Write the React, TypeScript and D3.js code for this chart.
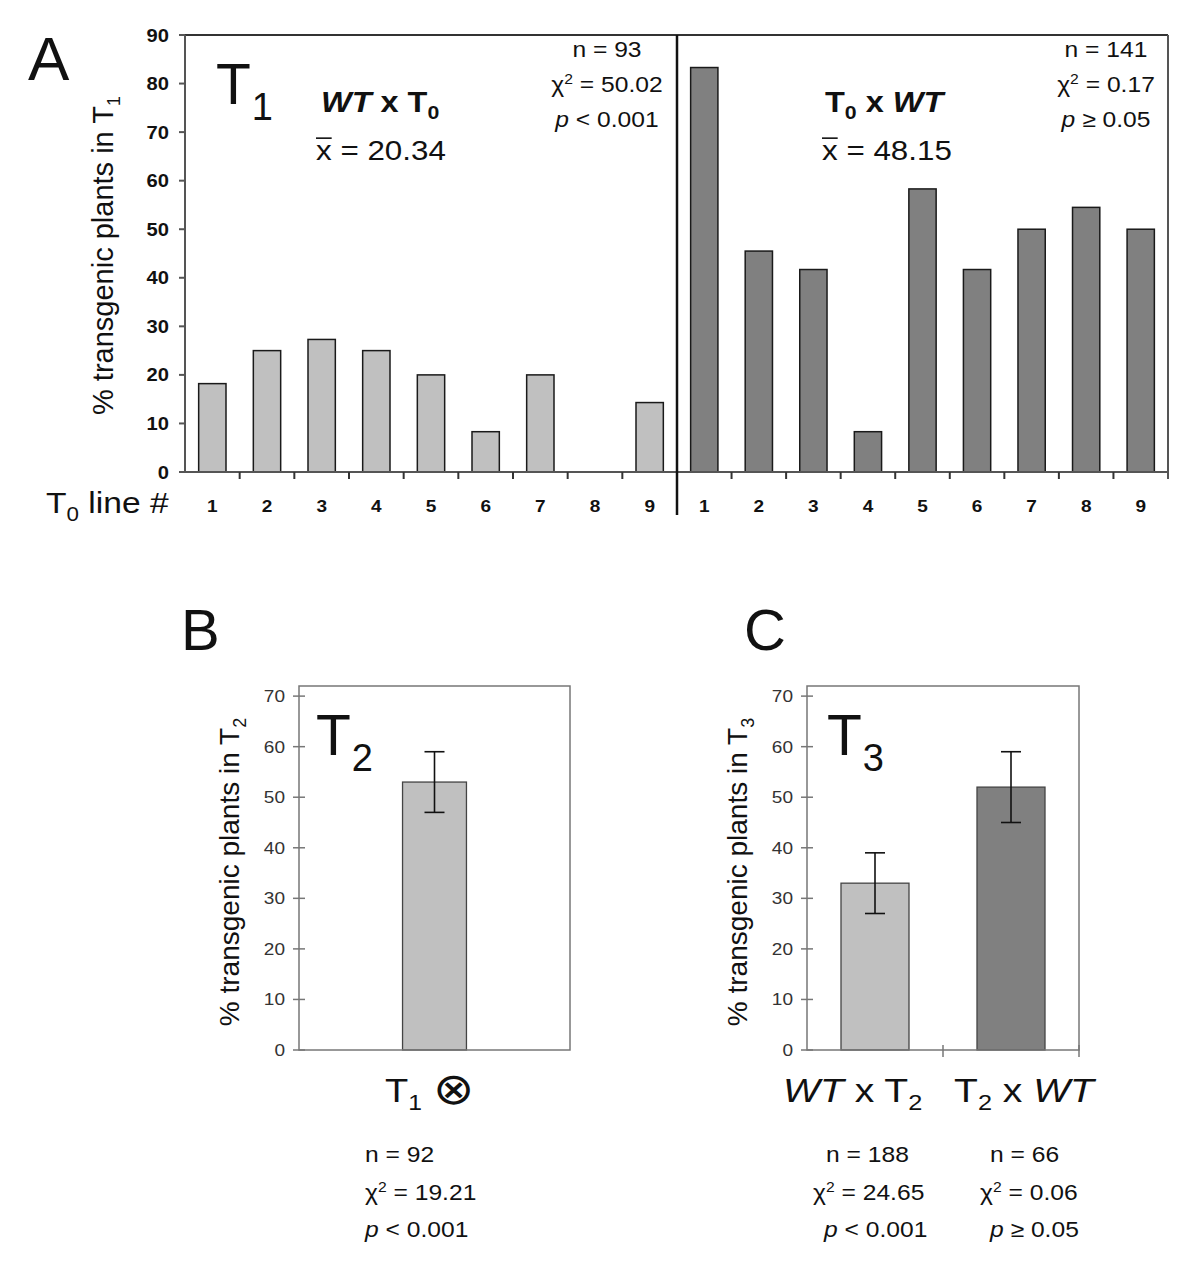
import React from 'react';
import * as d3 from 'd3';

// ---------- data ----------
const lineIds = ['1', '2', '3', '4', '5', '6', '7', '8', '9'];
const wtXT0 = [18.2, 25, 27.3, 25, 20, 8.3, 20, 0, 14.3];
const t0XWt = [83.3, 45.5, 41.7, 8.3, 58.3, 41.7, 50, 54.5, 50];
const ticksA = [0, 10, 20, 30, 40, 50, 60, 70, 80, 90];

const bCats = ['T1 self'];
const bMeans = [53];
const bLow = [47];
const bHigh = [59];

const cCats = ['WT x T2', 'T2 x WT'];
const cMeans = [33, 52];
const cLow = [27, 45];
const cHigh = [39, 59];
const ticksBC = [0, 10, 20, 30, 40, 50, 60, 70];

const LIGHT = '#c0c0c0';
const DARK = '#808080';
const FONT = '"Liberation Sans", Arial, Helvetica, sans-serif';
const SX = 1.12;

// text helper with horizontal stretch
function Txt(props: any) {
  const { x, y, size, weight, anchor, fill, rotate, sx, children, style } = props;
  const s = sx === undefined ? SX : sx;
  const tr = `translate(${x},${y})` + (rotate ? ` rotate(${rotate})` : '') + (s !== 1 ? ` scale(${s},1)` : '');
  return (
    <text
      transform={tr}
      fontSize={size}
      fontWeight={weight || 'normal'}
      textAnchor={anchor || 'start'}
      fill={fill || '#111'}
      fontFamily={FONT}
      style={style}
    >
      {children}
    </text>
  );
}

function Stats(props: any) {
  const { x, y, n, chi, p, anchor, gap } = props;
  const g = gap || 35;
  return (
    <g>
      <Txt x={x} y={y} size={22} anchor={anchor}>{`n = ${n}`}</Txt>
      <Txt x={x} y={y + g} size={22} anchor={anchor}>
        <tspan>χ</tspan>
        <tspan fontSize={14} dy={-8}>2</tspan>
        <tspan dy={8}>{` = ${chi}`}</tspan>
      </Txt>
      <Txt x={x} y={y + 2 * g} size={22} anchor={anchor}>
        <tspan fontStyle="italic">p</tspan>
        <tspan>{` ${p}`}</tspan>
      </Txt>
    </g>
  );
}

function Mean(props: any) {
  const { x, y, value, size } = props;
  const f = size;
  return (
    <g>
      <Txt x={x} y={y} size={f}>{`x = ${value}`}</Txt>
      <line x1={x} x2={x + 0.5 * f * SX} y1={y - 0.78 * f} y2={y - 0.78 * f} stroke="#111" strokeWidth={1.6} />
    </g>
  );
}

function BigT(props: any) {
  const { x, y, sub } = props;
  return (
    <Txt x={x} y={y} size={57} sx={1}>
      <tspan>T</tspan>
      <tspan fontSize={38} dx={1} dy={16}>{sub}</tspan>
    </Txt>
  );
}

function PanelA() {
  const x0 = 185, xDiv = 677, x1 = 1168, top = 35, bot = 472;
  const y = d3.scaleLinear().domain([0, 90]).range([bot, top]);
  const xL = d3.scaleBand().domain(lineIds).range([x0, xDiv]).paddingInner(0.5).paddingOuter(0.25);
  const xR = d3.scaleBand().domain(lineIds).range([xDiv, x1]).paddingInner(0.5).paddingOuter(0.25);
  const stepL = xL.step();
  const stepR = xR.step();
  return (
    <g>
      <Txt x={28} y={80} size={62} sx={1}>A</Txt>
      {/* y title */}
      <text transform={`translate(113,${(top + bot) / 2 + 2}) rotate(-90)`} fontSize={29} textAnchor="middle" fontFamily={FONT} fill="#111">
        <tspan>% transgenic plants in T</tspan>
        <tspan fontSize={18} dy={7}>1</tspan>
      </text>
      {/* bars */}
      {wtXT0.map((v, i) => (
        <rect key={'l' + i} x={xL(lineIds[i])} y={y(v)} width={xL.bandwidth()} height={bot - y(v)} fill={LIGHT} stroke="#1a1a1a" strokeWidth={1.5} />
      ))}
      {t0XWt.map((v, i) => (
        <rect key={'r' + i} x={xR(lineIds[i])} y={y(v)} width={xR.bandwidth()} height={bot - y(v)} fill={DARK} stroke="#1a1a1a" strokeWidth={1.5} />
      ))}
      {/* frame */}
      <line x1={x0} x2={x1} y1={top} y2={top} stroke="#333" strokeWidth={2} />
      <line x1={x1} x2={x1} y1={top} y2={bot + 7} stroke="#555" strokeWidth={2} />
      <line x1={x0} x2={x0} y1={top} y2={bot} stroke="#555" strokeWidth={2} />
      <line x1={x0} x2={x1} y1={bot} y2={bot} stroke="#555" strokeWidth={2} />
      <line x1={xDiv} x2={xDiv} y1={top} y2={515} stroke="#111" strokeWidth={2.5} />
      {/* y ticks */}
      {ticksA.map((t) => (
        <g key={'yt' + t}>
          <line x1={x0 - 6} x2={x0} y1={y(t)} y2={y(t)} stroke="#555" strokeWidth={2} />
          <Txt x={169} y={y(t) + 6.5} size={18} weight="bold" anchor="end">{String(t)}</Txt>
        </g>
      ))}
      {/* x ticks */}
      {lineIds.map((_, k) => (
        <g key={'xt' + k}>
          {k > 0 && <line x1={x0 + k * stepL} x2={x0 + k * stepL} y1={bot} y2={bot + 7} stroke="#333" strokeWidth={2} />}
          {k > 0 && <line x1={xDiv + k * stepR} x2={xDiv + k * stepR} y1={bot} y2={bot + 7} stroke="#333" strokeWidth={2} />}
        </g>
      ))}
      {lineIds.map((id) => (
        <g key={'xl' + id}>
          <Txt x={(xL(id) as number) + xL.bandwidth() / 2} y={512} size={17} weight="bold" anchor="middle">{id}</Txt>
          <Txt x={(xR(id) as number) + xR.bandwidth() / 2} y={512} size={17} weight="bold" anchor="middle">{id}</Txt>
        </g>
      ))}
      <Txt x={46} y={513} size={30}>
        <tspan>T</tspan>
        <tspan fontSize={20} dy={8}>0</tspan>
        <tspan dy={-8}> line #</tspan>
      </Txt>
      {/* annotations left */}
      <BigT x={216} y={104} sub="1" />
      <Txt x={321} y={112} size={29} weight="bold">
        <tspan fontStyle="italic">WT</tspan>
        <tspan> x T</tspan>
        <tspan fontSize={19} dy={7}>0</tspan>
      </Txt>
      <Mean x={316} y={160} value="20.34" size={28} />
      <Stats x={607} y={57} n="93" chi="50.02" p="< 0.001" anchor="middle" />
      {/* annotations right */}
      <Txt x={825} y={112} size={29} weight="bold">
        <tspan>T</tspan>
        <tspan fontSize={19} dy={7}>0</tspan>
        <tspan dy={-7}> x </tspan>
        <tspan fontStyle="italic">WT</tspan>
      </Txt>
      <Mean x={822} y={160} value="48.15" size={28} />
      <Stats x={1106} y={57} n="141" chi="0.17" p="≥ 0.05" anchor="middle" />
    </g>
  );
}

function SmallPanel(props: any) {
  const { x0, x1, cats, means, lows, highs, colors, sub, letter, letterX, bigX, outer } = props;
  const top = 686, bot = 1050;
  const y = d3.scaleLinear().domain([0, 72]).range([bot, top]);
  const xb = d3.scaleBand().domain(cats).range([x0, x1]).paddingInner(0.5).paddingOuter(outer);
  const bw = xb.bandwidth();
  const gray = '#777';
  return (
    <g>
      <Txt x={letterX} y={650} size={58} sx={1}>{letter}</Txt>
      <text transform={`translate(${x0 - 60},${(top + bot) / 2 + 4}) rotate(-90)`} fontSize={28} textAnchor="middle" fontFamily={FONT} fill="#111">
        <tspan>% transgenic plants in T</tspan>
        <tspan fontSize={18} dy={7}>{sub}</tspan>
      </text>
      {means.map((m: number, i: number) => {
        const cx = (xb(cats[i]) as number) + bw / 2;
        return (
          <g key={'b' + i}>
            <rect x={xb(cats[i])} y={y(m)} width={bw} height={bot - y(m)} fill={colors[i]} stroke="#444" strokeWidth={1.3} />
            <line x1={cx} x2={cx} y1={y(highs[i])} y2={y(lows[i])} stroke="#111" strokeWidth={1.6} />
            <line x1={cx - 10} x2={cx + 10} y1={y(highs[i])} y2={y(highs[i])} stroke="#111" strokeWidth={1.6} />
            <line x1={cx - 10} x2={cx + 10} y1={y(lows[i])} y2={y(lows[i])} stroke="#111" strokeWidth={1.6} />
          </g>
        );
      })}
      <rect x={x0} y={top} width={x1 - x0} height={bot - top} fill="none" stroke={gray} strokeWidth={1.5} />
      {ticksBC.map((t) => (
        <g key={'t' + t}>
          <line x1={x0 - 6} x2={x0 + 6} y1={y(t)} y2={y(t)} stroke={gray} strokeWidth={1.5} />
          <Txt x={x0 - 14} y={y(t) + 6} size={17} anchor="end" fill="#333">{String(t)}</Txt>
        </g>
      ))}
      {cats.length > 1 && cats.map((_: string, k: number) => (
        <line key={'xt' + k} x1={x0 + (k + 1) * xb.step()} x2={x0 + (k + 1) * xb.step()} y1={bot - 5} y2={bot + 7} stroke={gray} strokeWidth={1.5} />
      ))}
      <BigT x={bigX} y={755} sub={sub} />
    </g>
  );
}

export default function App() {
  return (
    <svg width={1200} height={1288} viewBox="0 0 1200 1288" style={{ position: 'absolute', left: 0, top: 0, background: '#fff' }}>
      <rect width={1200} height={1288} fill="#fff" />
      <PanelA />
      <SmallPanel x0={299} x1={570} cats={bCats} means={bMeans} lows={bLow} highs={bHigh} colors={[LIGHT]} sub="2" letter="B" letterX={181} bigX={316} outer={0.81} />
      <SmallPanel x0={807} x1={1079} cats={cCats} means={cMeans} lows={cLow} highs={cHigh} colors={[LIGHT, DARK]} sub="3" letter="C" letterX={744} bigX={827} outer={0.25} />
      {/* B x label */}
      <Txt x={385} y={1102} size={34}>
        <tspan>T</tspan>
        <tspan fontSize={22} dy={8}>1</tspan>
        <tspan dy={-6} dx={10} fontSize={44}>⊗</tspan>
      </Txt>
      <Stats x={365} y={1162} n="92" chi="19.21" p="< 0.001" anchor="start" gap={37.5} />
      {/* C x labels */}
      <Txt x={783} y={1102} size={34} sx={1.15}>
        <tspan fontStyle="italic">WT</tspan>
        <tspan> x T</tspan>
        <tspan fontSize={22} dy={8}>2</tspan>
      </Txt>
      <Txt x={954} y={1102} size={34} sx={1.15}>
        <tspan>T</tspan>
        <tspan fontSize={22} dy={8}>2</tspan>
        <tspan dy={-8}> x </tspan>
        <tspan fontStyle="italic">WT</tspan>
      </Txt>
      <Txt x={826} y={1162} size={22}>n = 188</Txt>
      <Txt x={813} y={1199.5} size={22}>
        <tspan>χ</tspan><tspan fontSize={14} dy={-8}>2</tspan><tspan dy={8}> = 24.65</tspan>
      </Txt>
      <Txt x={824} y={1237} size={22}>
        <tspan fontStyle="italic">p</tspan><tspan> &lt; 0.001</tspan>
      </Txt>
      <Txt x={990} y={1162} size={22}>n = 66</Txt>
      <Txt x={980} y={1199.5} size={22}>
        <tspan>χ</tspan><tspan fontSize={14} dy={-8}>2</tspan><tspan dy={8}> = 0.06</tspan>
      </Txt>
      <Txt x={990} y={1237} size={22}>
        <tspan fontStyle="italic">p</tspan><tspan> ≥ 0.05</tspan>
      </Txt>
    </svg>
  );
}
